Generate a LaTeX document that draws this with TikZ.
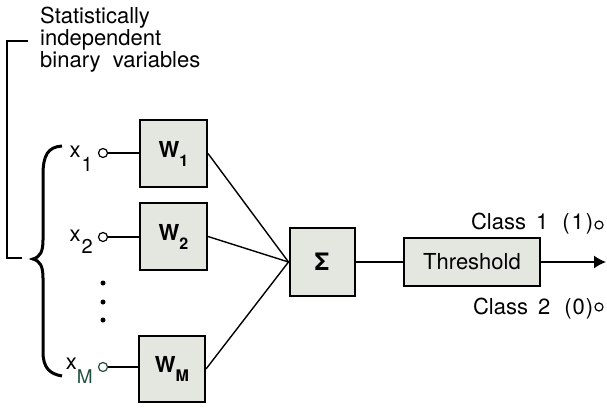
\documentclass[tikz,border=0pt]{standalone}
\usepackage{fontspec}
\setmainfont{TeX Gyre Heros}
\usetikzlibrary{arrows.meta,positioning}
\definecolor{boxfill}{RGB}{228,231,223}
\definecolor{scangreen}{RGB}{30,80,60}
\newcommand{\labfont}[1]{\fontsize{#1}{#1}\selectfont}

\begin{document}
\begin{tikzpicture}[x=1pt,y=-1pt,
  wbox/.style={draw,line width=2pt,fill=boxfill,inner sep=0pt},
  tap/.style={draw,circle,line width=1.2pt,inner sep=0pt,minimum size=9pt,fill=white},
  wire/.style={line width=1.4pt},
  lbl/.style={inner sep=0pt}]
\useasboundingbox (0,0) rectangle (607,407);

% note and bracket
\node[lbl,anchor=north west,align=left,font=\labfont{22}] (note) at (40,7)
  {Statistically\\independent\\binary\hspace{6pt} variables};
\draw[line width=1.3pt] (28,41) -- (7,41) -- (7,258) -- (22,258);

% brace round the inputs
\draw[line width=3pt] (62,146) .. controls (48,147) and (43,155) .. (43,175)
  -- (43,240) .. controls (43,252) and (40,257) .. (33,259)
  .. controls (40,261) and (43,266) .. (43,278) -- (43,352)
  .. controls (43,368) and (50,374) .. (62,376);

% weights
\node[wbox,minimum width=67pt,minimum height=67pt,font=\labfont{22}\bfseries] (w1) at (173.5,153.5)
  {W\raisebox{-9pt}{\labfont{16}1}};
\node[wbox,minimum width=67pt,minimum height=67pt,font=\labfont{22}\bfseries] (w2) at (173.5,236.5)
  {W\raisebox{-9pt}{\labfont{16}2}};
\node[wbox,minimum width=66pt,minimum height=66pt,font=\labfont{22}\bfseries] (wm) at (172,369)
  {W\raisebox{-9pt}{\labfont{16}M}};
\node[wbox,minimum width=65pt,minimum height=68pt,font=\labfont{24}\bfseries] (sum) at (322,262) {Σ};
\node[wbox,minimum width=136pt,minimum height=48pt,font=\labfont{22}] (thr) at (472,262) {Threshold};

% inputs
\node[tap] (x1o) at (103,153) {};
\node[tap] (x2o) at (103,237) {};
\node[tap,draw=scangreen] (xmo) at (103,367) {};
\node[lbl,anchor=base east,font=\labfont{22}] (x1) at ([xshift=-5pt,yshift=-4pt]x1o.west)
  {x\hspace{1pt}\raisebox{-14pt}{\labfont{20}1}};
\node[lbl,anchor=base east,font=\labfont{22}] (x2) at ([xshift=-5pt,yshift=-4pt]x2o.west)
  {x\hspace{1pt}\raisebox{-12pt}{\labfont{20}2}};
\node[lbl,anchor=base east,font=\labfont{22}] (xm) at ([xshift=-5pt,yshift=-2pt]xmo.west)
  {x\raisebox{-14pt}{\labfont{19}\color{scangreen}M}};
\foreach \y in {283,302,320}
  \fill (103,\y) circle (2.5);

% outputs
\coordinate (out) at (606,262);
\node[tap,minimum size=8pt] (c1o) at (599,225) {};
\node[tap,minimum size=8pt] (c2o) at (599,307) {};
\node[lbl,anchor=base east,font=\labfont{22}] (c1) at ([xshift=-1pt,yshift=-4pt]c1o.west)
  {Class\hspace{10pt}1\hspace{14pt}(\hspace{2pt}1\hspace{2pt})};
\node[lbl,anchor=base east,font=\labfont{22}] (c2) at ([xshift=-1pt,yshift=-7pt]c2o.west)
  {Class\hspace{10pt}2\hspace{14pt}(\hspace{1pt}0\hspace{1pt})};

\draw[wire] (x1o.east) -- (x1o.east -| w1.west);
\draw[wire] (x2o.east) -- (x2o.east -| w2.west);
\draw[wire] (xmo.east) -- (xmo.east -| wm.west);
\draw[wire] (w1.east) -- (sum.west);
\draw[wire] (w2.east) -- (sum.west);
\draw[wire] (wm.east) -- (sum.west);
\draw[wire] (sum) -- (thr);
\draw[wire,-{Latex[length=12pt,width=13pt]}] (thr.east) -- (out);
\end{tikzpicture}
\end{document}
